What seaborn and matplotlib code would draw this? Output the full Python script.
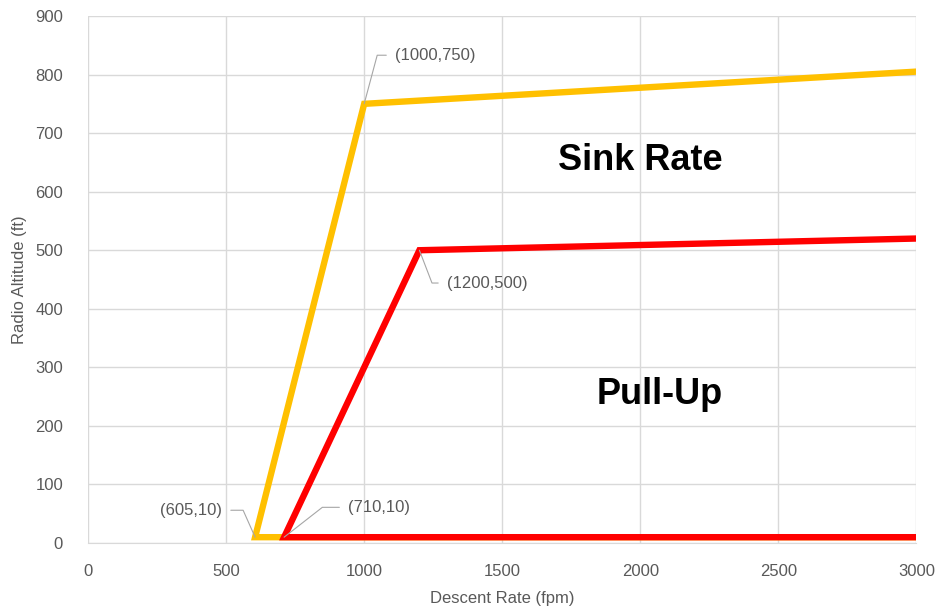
import pandas as pd
import matplotlib.pyplot as plt
import seaborn as sns

sns.set_style("whitegrid")
plt.rcParams['font.family'] = ['Liberation Sans', 'DejaVu Sans']

# Alert envelope data
sink_x = [3000, 605, 1000, 3000]
sink_y = [10, 10, 750, 805]
pull_x = [3000, 710, 1200, 3000]
pull_y = [10, 10, 500, 520]

x_ticks = [0, 500, 1000, 1500, 2000, 2500, 3000]
y_ticks = [0, 100, 200, 300, 400, 500, 600, 700, 800, 900]

sink = pd.DataFrame({"rate": sink_x, "alt": sink_y})
pull = pd.DataFrame({"rate": pull_x, "alt": pull_y})

fig = plt.figure(figsize=(9.37, 6.15), dpi=100)
ax = fig.add_axes([0.094, 0.117, 0.884, 0.857])

sns.lineplot(data=sink, x="rate", y="alt", sort=False, estimator=None,
             color="#FFC000", linewidth=4.6, ax=ax, solid_joinstyle="miter")
sns.lineplot(data=pull, x="rate", y="alt", sort=False, estimator=None,
             color="#FF0000", linewidth=4.6, ax=ax, solid_joinstyle="miter")

ax.set_xlim(0, 3000)
ax.set_ylim(0, 900)
ax.set_xticks(x_ticks)
ax.set_yticks(y_ticks)
ax.grid(color="#D9D9D9", linewidth=1)
for s in ["top", "right", "left"]:
    ax.spines[s].set_visible(False)
ax.spines["bottom"].set_color("#D9D9D9")
ax.tick_params(colors="#595959", labelsize=12, length=0)
ax.tick_params(axis="y", pad=18)
ax.tick_params(axis="x", pad=15)
ax.set_xlabel("Descent Rate (fpm)", color="#595959", fontsize=12, labelpad=9)
ax.set_ylabel("Radio Altitude (ft)", color="#595959", fontsize=12, labelpad=6)

# point callouts with leader lines
def lead(rel, angb):
    return dict(arrowstyle="-", color="#A6A6A6", linewidth=0.8,
                shrinkA=4, shrinkB=0, relpos=rel,
                connectionstyle=f"angle,angleA=0,angleB={angb},rad=0")

ax.annotate("(605,10)", xy=(605, 10), xytext=(485, 56),
            ha="right", va="center", color="#595959", fontsize=12,
            arrowprops=lead((1, 0.5), 114))
ax.annotate("(710,10)", xy=(710, 10), xytext=(942, 61),
            ha="left", va="center", color="#595959", fontsize=12,
            arrowprops=lead((0, 0.5), 38))
ax.annotate("(1000,750)", xy=(1000, 750), xytext=(1112, 833),
            ha="left", va="center", color="#595959", fontsize=12,
            arrowprops=lead((0, 0.5), 75))
ax.annotate("(1200,500)", xy=(1200, 500), xytext=(1300, 444),
            ha="left", va="center", color="#595959", fontsize=12,
            arrowprops=lead((0, 0.5), -69))

ax.text(2000, 654, "Sink Rate", ha="center", va="center",
        fontsize=26, fontweight="bold", color="black")
ax.text(2070, 253, "Pull-Up", ha="center", va="center",
        fontsize=26, fontweight="bold", color="black")

plt.savefig("out.png", dpi=100)
